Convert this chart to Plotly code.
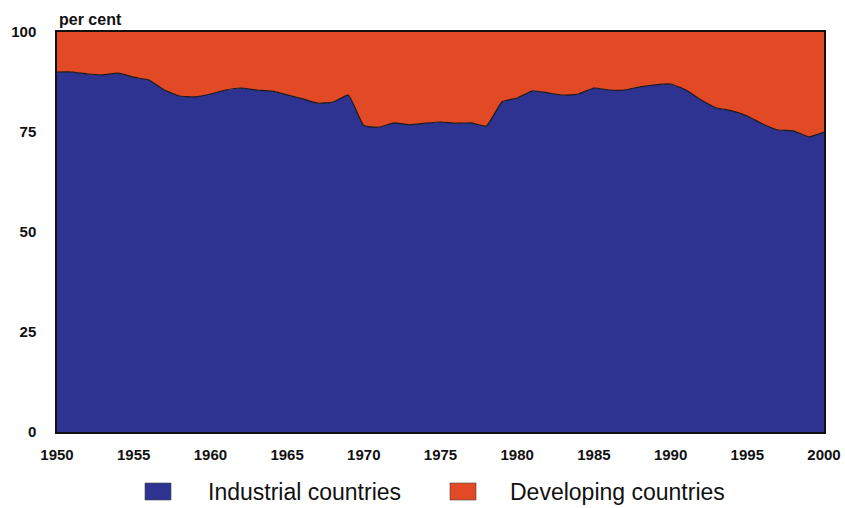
import plotly.graph_objects as go

years = list(range(1950, 2001))
industrial = [90, 90, 89.5, 89.3, 89.7, 88.7, 88, 85.5, 84, 83.8,
              84.5, 85.5, 86, 85.5, 85.2, 84.3, 83.3, 82.2, 82.5, 84.2,
              76.6, 76.2, 77.3, 76.8, 77.2, 77.5, 77.2, 77.3, 76.5, 82.5,
              83.5, 85.3, 84.8, 84.2, 84.5, 86, 85.5, 85.5, 86.3, 86.8,
              87, 85.5, 83, 81, 80.3, 79, 77, 75.5, 75.3, 73.8, 75]
developing = [round(100 - v, 2) for v in industrial]
series_names = ["Industrial countries", "Developing countries"]
x_ticks = list(range(1950, 2001, 5))
y_ticks = [0, 25, 50, 75, 100]

blue = "#2E3290"
orange = "#E24A26"
colors = [blue, orange]

W, H = 845, 508
ML, MR, MT, MB = 57, 21, 32, 76
PW, PH = W - ML - MR, H - MT - MB


def px_x(px):
    return (px - ML) / PW


def px_y(py):
    return (H - MB - py) / PH


fig = go.Figure()
fig.add_trace(go.Scatter(x=years, y=industrial, stackgroup="one", mode="lines",
                         line=dict(color="#1a1a1a", width=1.2, shape="spline", smoothing=0.4),
                         fillcolor=blue, name=series_names[0], showlegend=False,
                         hoverinfo="x+y"))
fig.add_trace(go.Scatter(x=years, y=developing, stackgroup="one", mode="lines",
                         line=dict(color=orange, width=0, shape="spline", smoothing=0.4),
                         fillcolor=orange, name=series_names[1], showlegend=False,
                         hoverinfo="x+y"))

# manual legend (swatches + real text)
shapes = []
annotations = []
legend_sw_x = [145, 450]
legend_tx_x = [206, 508]
for nm, col, sx, tx in zip(series_names, colors, legend_sw_x, legend_tx_x):
    shapes.append(dict(type="rect", xref="paper", yref="paper",
                       x0=px_x(sx), x1=px_x(sx + 26), y0=px_y(500), y1=px_y(483),
                       fillcolor=col, line=dict(color="#444", width=0.6), layer="above"))
    annotations.append(dict(text=nm, xref="paper", yref="paper", x=px_x(tx), y=px_y(492),
                            xanchor="left", yanchor="middle", showarrow=False,
                            font=dict(size=23, color="#111")))
annotations.append(dict(text="<b>per cent</b>", x=0, y=1, xref="paper", yref="paper",
                        xanchor="left", yanchor="bottom", yshift=2, showarrow=False,
                        font=dict(size=16, color="#111")))

fig.update_layout(
    width=W, height=H,
    margin=dict(l=ML, r=MR, t=MT, b=MB, autoexpand=False),
    paper_bgcolor="white", plot_bgcolor="white",
    font=dict(family="Liberation Sans, Arial, sans-serif", color="#111"),
    showlegend=False,
    shapes=shapes,
    annotations=annotations,
)
fig.update_xaxes(range=[1950, 2000], tickvals=x_ticks, ticktext=[f"<b>{t}</b>" for t in x_ticks],
                 tickfont=dict(size=15), showgrid=False, zeroline=False,
                 showline=True, linecolor="#111", linewidth=1.5, mirror=True, ticks="",
                 ticklabelstandoff=8, automargin=False)
fig.update_yaxes(range=[0, 100], tickvals=y_ticks, ticktext=[f"<b>{t}</b>" for t in y_ticks],
                 tickfont=dict(size=15), showgrid=False, zeroline=False,
                 showline=True, linecolor="#111", linewidth=1.5, mirror=True, ticks="",
                 ticklabelstandoff=16, automargin=False)

fig.write_html("out.html", config={"displayModeBar": False},
               post_script="document.body.style.margin='0';")
